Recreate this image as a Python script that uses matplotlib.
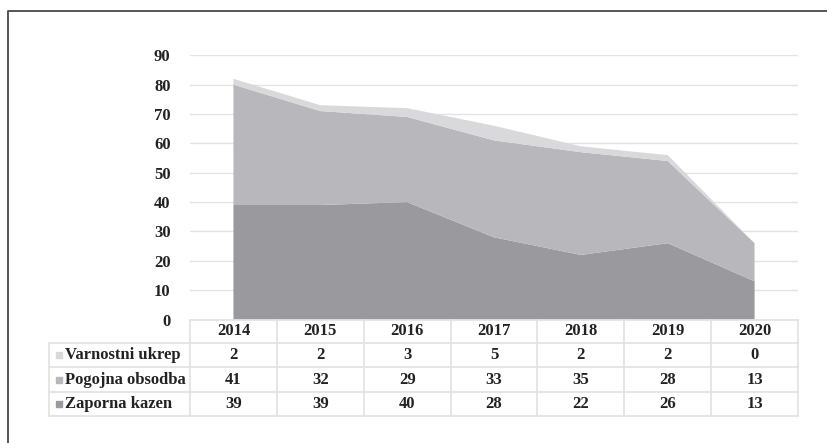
import matplotlib.pyplot as plt
from matplotlib.lines import Line2D
from matplotlib.patches import Rectangle

years = ["2014", "2015", "2016", "2017", "2018", "2019", "2020"]
zaporna = [39, 39, 40, 28, 22, 26, 13]
pogojna = [41, 32, 29, 33, 35, 28, 13]
varnostni = [2, 2, 3, 5, 2, 2, 0]

# table rows, top to bottom
row_names = ["Varnostni ukrep", "Pogojna obsodba", "Zaporna kazen"]
row_values = [varnostni, pogojna, zaporna]
row_colors = ["#d9d9db", "#b8b8bc", "#9a9a9e"]

plt.rcParams["font.family"] = "Liberation Serif"
plt.rcParams["font.weight"] = "bold"

W, H = 827, 443
fig = plt.figure(figsize=(W / 100, H / 100), dpi=100)


def fx(px):
    return px / W


def fy(py):
    return 1 - py / H


# ----------------------------------
# stacked area chart
# ----------------------------------
ax = fig.add_axes([fx(190), fy(319.5), fx(798) - fx(190), fy(55.3) - fy(319.5)])
x = list(range(len(years)))
ax.stackplot(x, zaporna, pogojna, varnostni,
             colors=[row_colors[2], row_colors[1], row_colors[0]], linewidth=0)
ax.set_xlim(-0.5, len(years) - 0.5)
ax.set_ylim(0, 90)
ax.set_yticks(range(0, 91, 10))
ax.yaxis.grid(True, color="#e3e3e3", lw=1)
ax.set_axisbelow(True)
for s in ax.spines.values():
    s.set_visible(False)
ax.tick_params(axis="y", length=0, pad=14, labelsize=12, colors="#222222")
ax.set_xticks([])

# ----------------------------------
# data table below the chart
# ----------------------------------
def col_x(v):
    px = ax.transData.transform((v, 0))[0]
    return px / W

line_kw = dict(color="#e2e2e2", lw=1.2, transform=fig.transFigure)
row_y = [320, 342.7, 367.3, 391.7, 415.7]
left_px = 49
right = col_x(len(years) - 0.5)

# horizontal lines
fig.add_artist(Line2D([col_x(-0.5), right], [fy(row_y[0])] * 2, **line_kw))
for yy in row_y[1:]:
    fig.add_artist(Line2D([fx(left_px), right], [fy(yy)] * 2, **line_kw))

# vertical lines
fig.add_artist(Line2D([fx(left_px)] * 2, [fy(row_y[1]), fy(row_y[-1])], **line_kw))
for i in range(len(years) + 1):
    xv = col_x(i - 0.5)
    fig.add_artist(Line2D([xv, xv], [fy(row_y[0]), fy(row_y[-1])], **line_kw))

txt_kw = dict(fontsize=12, fontweight="bold", color="#222222", va="center")

# header
for i, yr in enumerate(years):
    fig.text(col_x(i), fy((row_y[0] + row_y[1]) / 2), yr, ha="center", **txt_kw)

# rows
for r, (name, vals, c) in enumerate(zip(row_names, row_values, row_colors)):
    yc = fy((row_y[r + 1] + row_y[r + 2]) / 2)
    fig.add_artist(Rectangle((fx(56), yc - 3 / H), 6 / W, 6 / H,
                             color=c, transform=fig.transFigure))
    fig.text(fx(65), yc, name, ha="left", **txt_kw)
    for i, v in enumerate(vals):
        fig.text(col_x(i), yc, str(v), ha="center", **txt_kw)

# outer frame (left and top only visible)
fig.add_artist(Line2D([fx(8), fx(8), 1], [0, fy(11), fy(11)],
                      color="#555555", lw=1.4, transform=fig.transFigure))

fig.savefig("out.png", dpi=100)
